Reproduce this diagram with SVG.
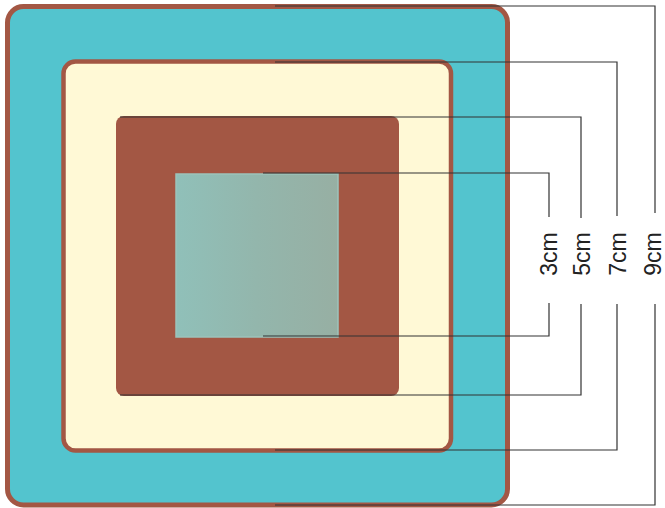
<svg xmlns="http://www.w3.org/2000/svg" width="665" height="508" viewBox="0 0 665 508">
  <defs>
    <linearGradient id="g" x1="0" y1="0" x2="1" y2="0">
      <stop offset="0" stop-color="#90C0B9"/>
      <stop offset="0.5" stop-color="#93B6AC"/>
      <stop offset="1" stop-color="#97AFA3"/>
    </linearGradient>
  </defs>
  <style>
    .dim { fill: none; stroke: #333333; stroke-width: 1.2; }
    .lbl { font-family: "Liberation Sans", Arial, sans-serif; font-size: 23px; fill: #222222; text-anchor: middle; }
  </style>
  <rect width="665" height="508" fill="#ffffff"/>
  <g id="square-9cm">
    <rect x="7.5" y="6.5" width="500" height="498.5" rx="16" fill="#53C4CE" stroke="#A35744" stroke-width="5"/>
  </g>
  <g id="square-7cm">
    <rect x="63.5" y="61.5" width="387.5" height="389" rx="12" fill="#FFF9D6" stroke="#A35744" stroke-width="4.5"/>
  </g>
  <g id="square-5cm">
    <rect x="116" y="116" width="283" height="280" rx="8" fill="#A35744"/>
  </g>
  <g id="square-3cm">
    <rect x="176" y="174" width="162" height="163" fill="url(#g)" stroke="#9CC3BB" stroke-width="1.5"/>
  </g>
  <g id="connectors">
    <polyline class="dim" points="263,173 549,173 549,217"/>
    <polyline class="dim" points="549,303 549,336 263,336"/>
    <polyline class="dim" points="120,117 581,117 581,218"/>
    <polyline class="dim" points="581,304 581,395 120,395"/>
    <polyline class="dim" points="275,62 617,62 617,216"/>
    <polyline class="dim" points="617,304 617,450 275,450"/>
    <polyline class="dim" points="275,6 655,6 655,213"/>
    <polyline class="dim" points="655,304 655,505 275,505"/>
  </g>
  <g id="labels">
    <text class="lbl" transform="translate(557,254) rotate(-90)">3cm</text>
    <text class="lbl" transform="translate(590,254) rotate(-90)">5cm</text>
    <text class="lbl" transform="translate(626,254) rotate(-90)">7cm</text>
    <text class="lbl" transform="translate(661,254) rotate(-90)">9cm</text>
  </g>
</svg>
